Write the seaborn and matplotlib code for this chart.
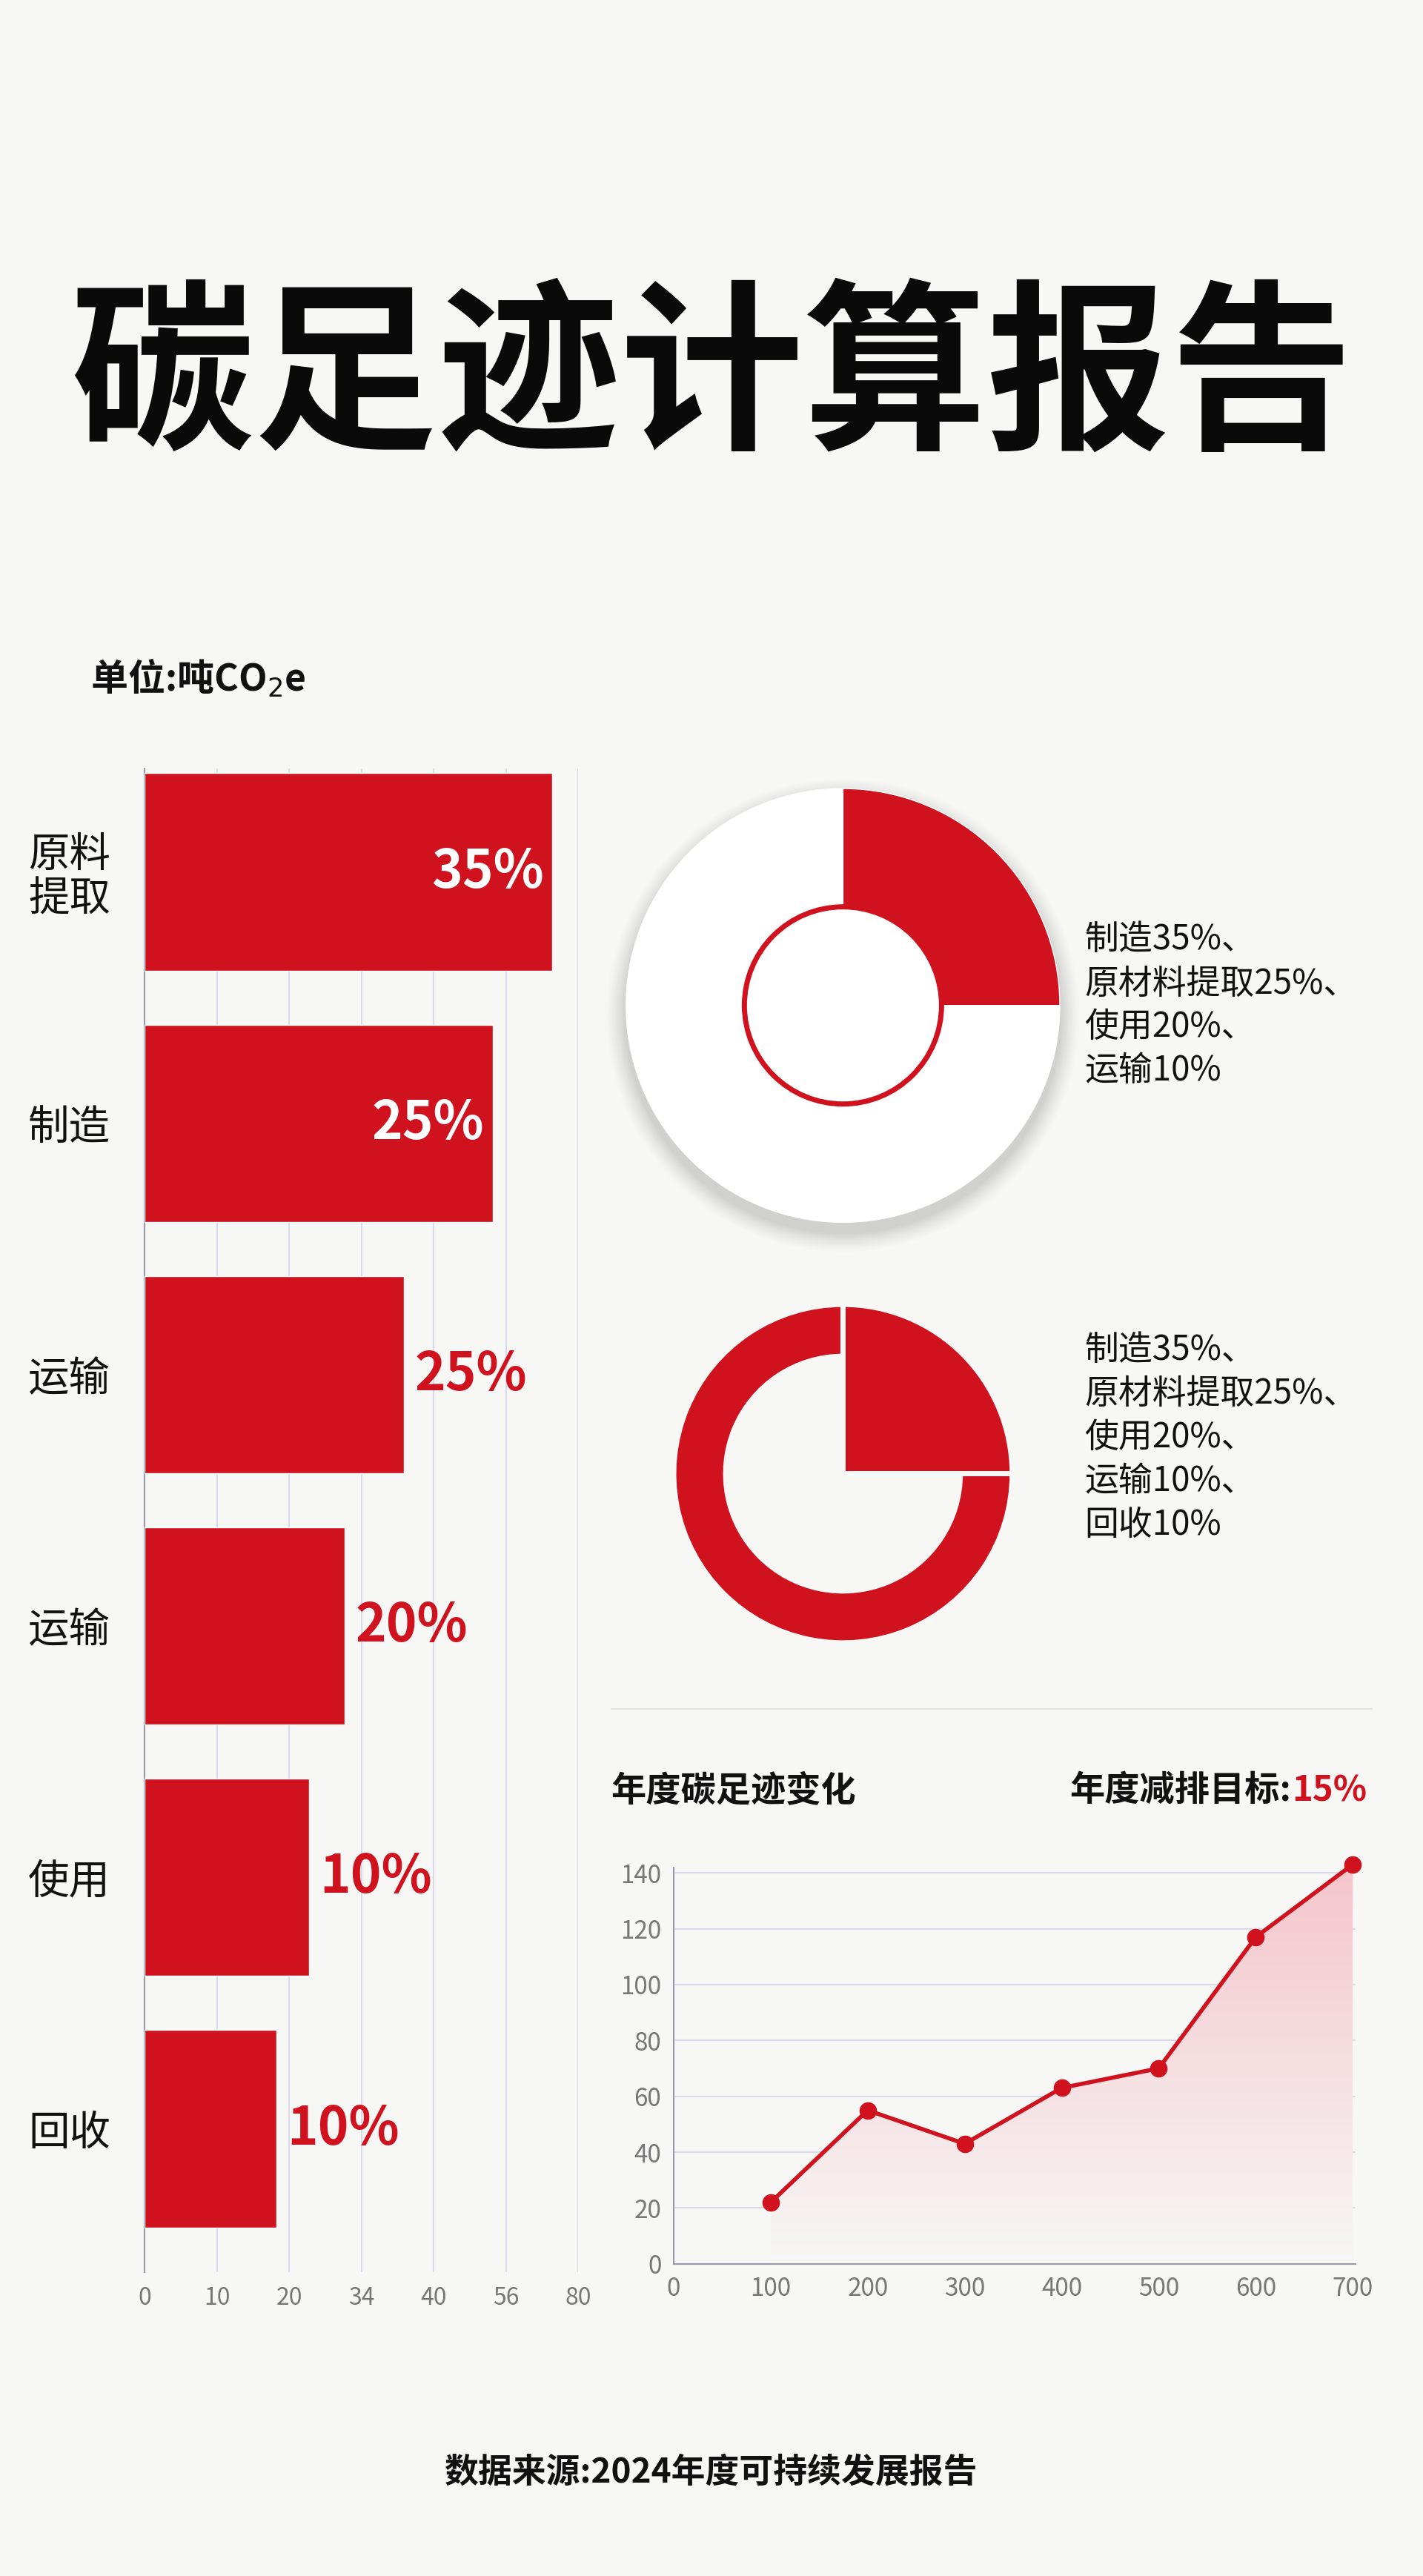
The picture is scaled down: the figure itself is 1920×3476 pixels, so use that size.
import numpy as np
import pandas as pd
import matplotlib
matplotlib.use("Agg")
import matplotlib.pyplot as plt
from matplotlib.patches import Circle, Wedge, Polygon
import seaborn as sns

# ---------------- data ----------------
bar_labels = ["原料\n提取", "制造", "运输", "运输", "使用", "回收"]
bar_values = [56.4, 48.2, 35.9, 27.7, 22.7, 18.2]
bar_pct = ["35%", "25%", "25%", "20%", "10%", "10%"]
bar_ticks = [0, 10, 20, 30, 40, 50, 60]
bar_tick_labels = ["0", "10", "20", "34", "40", "56", "80"]

pie1_values = [25, 75]
pie1_text = "制造35%、\n原材料提取25%、\n使用20%、\n运输10%"
pie2_values = [25, 75]
pie2_text = "制造35%、\n原材料提取25%、\n使用20%、\n运输10%、\n回收10%"

line_x = [100, 200, 300, 400, 500, 600, 700]
line_y = [22, 55, 43, 63, 70, 117, 143]
line_xticks = [0, 100, 200, 300, 400, 500, 600, 700]
line_yticks = [0, 20, 40, 60, 80, 100, 120, 140]

RED = "#d0121f"
BG = "#f7f7f6"
GRID = "#d9dbe8"
FONT = ["Noto Sans CJK SC", "DejaVu Sans"]

sns.set_theme(style="white")
plt.rcParams["font.family"] = FONT

W, H = 866.0, 1568.0
fig = plt.figure(figsize=(19.2, 34.76), dpi=100, facecolor=BG)


def rect(x0, y0, x1, y1):
    return [x0 / W, 1 - y1 / H, (x1 - x0) / W, (y1 - y0) / H]


def ftxt(x, y, s, **kw):
    fig.text(x / W, 1 - y / H, s, **kw)


# title
ftxt(433, 232, "碳足迹计算报告", ha="center", va="center", fontsize=178,
     fontweight="black", color="#0a0a0a")
ftxt(55, 413, "单位:吨CO$_2$e", ha="left", va="center", fontsize=36,
     fontweight="bold", color="#111111")

# ---------------- bar chart ----------------
ax = fig.add_axes(rect(88, 468, 352, 1383))
ax.set_facecolor(BG)
df = pd.DataFrame({"cat": [str(i) for i in range(len(bar_values))], "val": bar_values})
sns.barplot(data=df, x="val", y="cat", orient="h", color=RED, saturation=1,
            width=0.785, ax=ax, zorder=3)
ax.set_xlim(0, 60)
ax.set_ylim(5.57, -0.41)
ax.set_xticks(bar_ticks)
ax.set_xticklabels(bar_tick_labels, color="#777777", fontsize=23)
ax.set_yticks(range(len(bar_labels)))
ax.set_yticklabels(bar_labels, fontsize=40, fontweight="medium",
                   color="#111111", linespacing=1.05)
ax.tick_params(axis="y", length=0, pad=12)
ax.tick_params(axis="x", length=0, pad=14)
for lab in ax.get_yticklabels():
    lab.set_horizontalalignment("center")
    lab.set_x(-0.145)
ax.set_xlabel("")
ax.set_ylabel("")
ax.grid(axis="x", color=GRID, lw=1.5, zorder=0)
for s in ["top", "right", "bottom"]:
    ax.spines[s].set_visible(False)
ax.spines["left"].set_color("#9a9aa8")
ax.spines["left"].set_linewidth(1.5)
for i, (v, p) in enumerate(zip(bar_values, bar_pct)):
    if i < 2:
        ax.text(v - 1.2, i, p, ha="right", va="center", color="white",
                fontsize=51, fontweight="bold", zorder=4)
    else:
        ax.text(v + 1.5, i, p, ha="left", va="center", color=RED,
                fontsize=51, fontweight="bold", zorder=4)

# ---------------- pie 1 ----------------
r1 = 132
pax = fig.add_axes(rect(513 - 150, 612 - 150, 513 + 150, 612 + 150))
for k, a in zip(range(12, 0, -1), np.linspace(0.012, 0.05, 12)):
    pax.add_patch(Circle((0, -6), r1 + k, color="#8a8a8a", alpha=a, lw=0))
pax.pie(pie1_values, colors=[RED, "white"], startangle=90, counterclock=False,
        radius=r1, center=(0, 0), frame=True)
pax.set_xlim(-150, 150)
pax.set_ylim(-150, 150)
pax.set_aspect("equal")
pax.axis("off")
pax.add_patch(Circle((0, 0), 60, facecolor="white", edgecolor=RED, lw=5, zorder=5))
ftxt(660, 612, pie1_text, ha="left", va="center", fontsize=33,
     color="#111111", linespacing=1.28)

# ---------------- pie 2 ----------------
r2 = 103
qax = fig.add_axes(rect(513 - 120, 897 - 120, 513 + 120, 897 + 120))
qax.pie(pie2_values, colors=[RED, RED], startangle=90, counterclock=False,
        radius=r2, center=(0, 0), frame=True,
        wedgeprops=dict(edgecolor=BG, linewidth=5))
qax.add_patch(Wedge((0, 0), 73, 90, 360, facecolor=BG, lw=0, zorder=5))
qax.set_xlim(-120, 120)
qax.set_ylim(-120, 120)
qax.set_aspect("equal")
qax.axis("off")
ftxt(660, 875, pie2_text, ha="left", va="center", fontsize=33,
     color="#111111", linespacing=1.28)

# separator + line chart titles
fig.add_artist(plt.Line2D([372 / W, 835 / W], [1 - 1040 / H] * 2,
                          color="#e2e2e2", lw=1.5))
ftxt(372, 1090, "年度碳足迹变化", ha="left", va="center", fontsize=34,
     fontweight="bold", color="#111111")
ftxt(786, 1090, "年度减排目标:", ha="right", va="center", fontsize=34,
     fontweight="bold", color="#111111")
ftxt(786, 1090, "15%", ha="left", va="center", fontsize=34, fontweight="bold",
     color=RED)

# ---------------- line chart ----------------
lax = fig.add_axes(rect(410, 1378 - 142 * 1.7, 825, 1378))
lax.set_facecolor(BG)
ld = pd.DataFrame({"x": line_x, "y": line_y})
sns.lineplot(data=ld, x="x", y="y", color=RED, lw=4, marker="o", markersize=17,
             markeredgewidth=0, ax=lax, zorder=5, clip_on=False)
lax.set_xlim(0, 703)
lax.set_ylim(0, 142)
grad = np.linspace(0, 1, 256).reshape(-1, 1)
img = lax.imshow(grad, extent=[0, 703, 0, 142], origin="lower", aspect="auto",
                 cmap=matplotlib.colors.LinearSegmentedColormap.from_list(
                     "g", [BG, "#f4c6cc"]), zorder=2)
img.set_clip_path(Polygon(list(zip(line_x, line_y)) + [(700, 0), (100, 0)],
                          closed=True, transform=lax.transData))
lax.set_xticks(line_xticks)
lax.set_yticks(line_yticks)
lax.tick_params(labelsize=24, colors="#777777", length=0, pad=12)
lax.grid(axis="y", color=GRID, lw=1.5, zorder=0)
lax.set_xlabel("")
lax.set_ylabel("")
for s in ["top", "right"]:
    lax.spines[s].set_visible(False)
for s in ["left", "bottom"]:
    lax.spines[s].set_color("#9a9aa8")
    lax.spines[s].set_linewidth(1.5)

# footer
ftxt(433, 1505, "数据来源:2024年度可持续发展报告", ha="center", va="center",
     fontsize=33, fontweight="bold", color="#111111")

fig.savefig("out.png", dpi=100, facecolor=BG)
